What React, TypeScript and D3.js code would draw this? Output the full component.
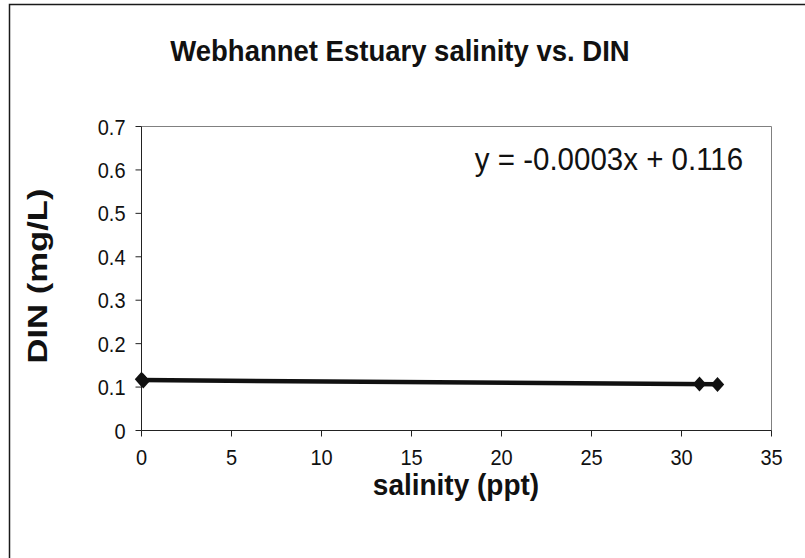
import React from "react";
import * as d3 from "d3";

const salinity = [0, 0.1, 31, 32];
const din = [0.118, 0.114, 0.107, 0.106];
const xTicks = [0, 5, 10, 15, 20, 25, 30, 35];
const yTicks = [0, 0.1, 0.2, 0.3, 0.4, 0.5, 0.6, 0.7];
const trendSlope = -0.0003;
const trendIntercept = 0.116;
const trendRange = [0, 32];
const title = "Webhannet Estuary salinity vs. DIN";
const xTitle = "salinity (ppt)";
const yTitle = "DIN (mg/L)";
const equation = "y = -0.0003x + 0.116";

const K = 1.08; // slight vertical stretch of the reference text

export default function App() {
  const W = 805, H = 558;
  const left = 141.5, right = 771.5, top = 126.5, bottom = 430.5;
  const x = d3.scaleLinear().domain([0, 35]).range([left, right]);
  const y = d3.scaleLinear().domain([0, 0.7]).range([bottom, top]);
  const font = "'Liberation Sans', Arial, sans-serif";
  const trendLine = d3.line<number>().x((d) => x(d)).y((d) => y(trendSlope * d + trendIntercept));
  const diamond = d3.symbol().type(d3.symbolDiamond2).size(115)();
  const T = (tx: number, ty: number) => `translate(${tx},${ty}) scale(1,${K})`;
  return (
    <svg width={W} height={H} style={{ position: "absolute", left: 0, top: 0, background: "#fff" }} fontFamily={font}>
      <rect x={0} y={0} width={W} height={H} fill="#fff" />
      <rect x={9.5} y={4.5} width={800} height={600} fill="none" stroke="#1a1a1a" strokeWidth={1.5} />
      <text transform={T(400, 61)} textAnchor="middle" fontSize={27.5} fontWeight="bold" fill="#111">{title}</text>
      {/* plot area border */}
      <line x1={left} x2={right} y1={top} y2={top} stroke="#808080" strokeWidth={1} />
      <line x1={right} x2={right} y1={top} y2={bottom} stroke="#808080" strokeWidth={1} />
      {/* axes */}
      <line x1={left} x2={right} y1={bottom} y2={bottom} stroke="#222" strokeWidth={1} />
      <line x1={left} x2={left} y1={top} y2={bottom} stroke="#222" strokeWidth={1} />
      {xTicks.map((t) => (
        <g key={"x" + t}>
          <line x1={x(t)} x2={x(t)} y1={bottom} y2={bottom + 6} stroke="#222" />
          <text transform={T(x(t), bottom + 34)} textAnchor="middle" fontSize={20} fill="#111">{t}</text>
        </g>
      ))}
      {yTicks.map((t) => (
        <g key={"y" + t}>
          <line x1={left - 6} x2={left} y1={y(t)} y2={y(t)} stroke="#222" />
          <text transform={T(left - 16, y(t) + 8)} textAnchor="end" fontSize={20} fill="#111">{d3.format("")(t)}</text>
        </g>
      ))}
      <path d={trendLine(trendRange) || ""} fill="none" stroke="#111" strokeWidth={4.5} />
      {salinity.map((s, i) => (
        <path key={i} d={diamond || ""} transform={`translate(${x(s)},${y(din[i])}) scale(1,1.12)`} fill="#111" />
      ))}
      <text transform={T(609, 170)} textAnchor="middle" fontSize={29.5} fill="#111">{equation}</text>
      <text transform={T(456, 495)} textAnchor="middle" fontSize={28} fontWeight="bold" fill="#111">{xTitle}</text>
      <text transform={`translate(47,276) scale(1,1.26) rotate(-90)`} textAnchor="middle" fontSize={27.5} fontWeight="bold" fill="#111">{yTitle}</text>
    </svg>
  );
}
